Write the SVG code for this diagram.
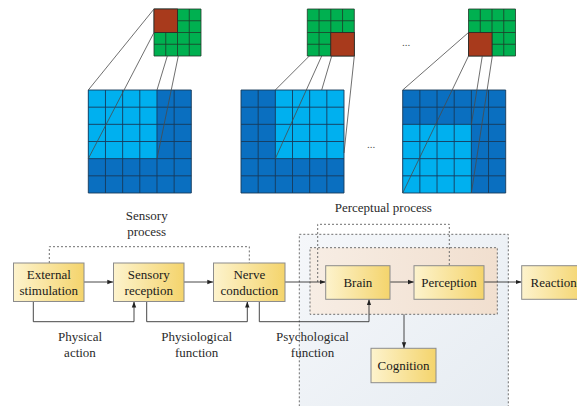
<svg xmlns="http://www.w3.org/2000/svg" xmlns:xlink="http://www.w3.org/1999/xlink" width="577" height="406" viewBox="0 0 577 406">
<style>
.t{font-family:"Liberation Serif","Times New Roman",serif;font-size:13px;fill:#1a1a1a;text-anchor:middle}
.lb{font-family:"Liberation Serif","Times New Roman",serif;font-size:13px;fill:#2a2a2a;text-anchor:middle}
.box{fill:url(#gy);stroke:#8c8c8c;stroke-width:1}
.ln{fill:none;stroke:#333;stroke-width:0.9}
.arr{fill:none;stroke:#333;stroke-width:0.9;marker-end:url(#ah)}
.dash{fill:none;stroke:#6f6f6f;stroke-width:1;stroke-dasharray:2 2}
.dk{fill:#0a6fc0}
.lt{fill:#00b0ef}
.gr{fill:#00b050}
.rd{fill:#a83a1c;stroke:#2a2a2a;stroke-width:0.8}
.bg{fill:none;stroke:#173a5a;stroke-width:0.9}
.gg{fill:none;stroke:#1f3a2a;stroke-width:0.8}
.cl{fill:none;stroke:#4a4a4a;stroke-width:0.8}
</style>
<defs>
<linearGradient id="gy" x1="0" y1="0" x2="1" y2="0">
<stop offset="0" stop-color="#fdf3cd"/>
<stop offset="1" stop-color="#f4d46c"/>
</linearGradient>
<linearGradient id="gb" x1="0" y1="0" x2="1" y2="1">
<stop offset="0" stop-color="#f5f7fa"/>
<stop offset="1" stop-color="#e6ecf2"/>
</linearGradient>
<linearGradient id="gp" x1="0" y1="0" x2="1" y2="0">
<stop offset="0" stop-color="#f7ede4"/>
<stop offset="1" stop-color="#f1dfcf"/>
</linearGradient>
<marker id="ah" viewBox="0 0 6 6" refX="6" refY="3" markerWidth="6" markerHeight="6" markerUnits="userSpaceOnUse" orient="auto">
<path d="M0 0.8L6 3L0 5.2Z" fill="#222"/>
</marker>
<path id="bgl" class="bg" d="M0 0H103V103H0Z M17.17 0V103 M34.33 0V103 M51.5 0V103 M68.67 0V103 M85.83 0V103 M0 17.17H103 M0 34.33H103 M0 51.5H103 M0 68.67H103 M0 85.83H103"/>
<path id="ggl" class="gg" d="M0 0H47V47H0Z M11.75 0V47 M23.5 0V47 M35.25 0V47 M0 11.75H47 M0 23.5H47 M0 35.25H47"/>
</defs>

<!-- top grids -->
<g id="grid1">
<rect class="dk" x="88.3" y="90" width="103" height="103"/>
<rect class="lt" x="88.3" y="90" width="68.67" height="68.67"/>
<use xlink:href="#bgl" href="#bgl" x="88.3" y="90"/>
<rect class="gr" x="154" y="9" width="47" height="47"/>
<use xlink:href="#ggl" href="#ggl" x="154" y="9"/>
<rect class="rd" x="154" y="9" width="23.5" height="23.5"/>
<path class="cl" d="M154 9L88.3 90 M154 32.5L88.3 158.7 M167.3 56L157 90 M178.3 56L157 158.7"/>
</g>
<g id="grid2">
<rect class="dk" x="241" y="90" width="103" height="103"/>
<rect class="lt" x="275.33" y="90" width="68.67" height="68.67"/>
<use xlink:href="#bgl" href="#bgl" x="241" y="90"/>
<rect class="gr" x="307.3" y="9" width="47" height="47"/>
<use xlink:href="#ggl" href="#ggl" x="307.3" y="9"/>
<rect class="rd" x="330.8" y="32.5" width="23.5" height="23.5"/>
<path class="cl" d="M309.3 56L275.3 90 M321.7 56L275.3 158.7 M331.7 56L321.7 90 M354.3 56L344 153"/>
</g>
<g id="grid3">
<rect class="dk" x="402.7" y="90" width="103" height="103"/>
<rect class="lt" x="402.7" y="124.33" width="68.67" height="68.67"/>
<use xlink:href="#bgl" href="#bgl" x="402.7" y="90"/>
<rect class="gr" x="468.5" y="9" width="47" height="47"/>
<use xlink:href="#ggl" href="#ggl" x="468.5" y="9"/>
<rect class="rd" x="468.5" y="32.5" width="23.5" height="23.5"/>
<path class="cl" d="M468.5 32.5L402.7 90 M468.5 56L402.7 193 M482.3 56L471.4 124.3 M492.3 56L471.4 193"/>
</g>
<text x="406" y="46" style="font-family:'Liberation Serif',serif;font-size:11px;fill:#555;text-anchor:middle">...</text>
<text x="371" y="148" style="font-family:'Liberation Serif',serif;font-size:11px;fill:#555;text-anchor:middle">...</text>

<!-- regions -->
<g id="perceptual-region">
<rect x="299.3" y="234.3" width="209" height="185" fill="url(#gb)" class="dash" style="fill:url(#gb)"/>
<rect x="310" y="247.7" width="187.3" height="66.6" class="dash" style="fill:url(#gp)"/>
</g>

<!-- connectors -->
<g id="connectors">
<path class="dash" d="M49.3 263V246.7H249.3V263"/>
<path class="dash" d="M317.7 282V224.3H449.3V265.7"/>
<path class="arr" d="M84 282H113.3"/>
<path class="arr" d="M184 282H213.3"/>
<path class="arr" d="M285 282H325.7"/>
<path class="arr" d="M390 282H414"/>
<path class="arr" d="M484 282H521.7"/>
<path class="arr" d="M33.3 301.5V321.7H134V301.5"/>
<path class="arr" d="M146.7 301.5V321.7H247.3V301.5"/>
<path class="arr" d="M259.3 301.5V321.7H369V299.3"/>
<path class="arr" d="M404 314.3V348.3"/>
</g>

<!-- labels -->
<text class="lb" x="146.7" y="220">Sensory</text>
<text class="lb" x="146.7" y="236">process</text>
<text class="lb" x="383.3" y="212">Perceptual process</text>
<text class="lb" x="80" y="341">Physical</text>
<text class="lb" x="80" y="357">action</text>
<text class="lb" x="196.7" y="341">Physiological</text>
<text class="lb" x="196.7" y="357">function</text>
<text class="lb" x="312.5" y="341">Psychological</text>
<text class="lb" x="312.5" y="357">function</text>

<!-- nodes -->
<g id="external">
<rect class="box" x="13.5" y="263" width="70.5" height="38.5"/>
<text class="t" x="48.8" y="279">External</text>
<text class="t" x="48.8" y="295">stimulation</text>
</g>
<g id="sensory">
<rect class="box" x="113.5" y="263" width="70.5" height="38.5"/>
<text class="t" x="148.8" y="279">Sensory</text>
<text class="t" x="148.8" y="295">reception</text>
</g>
<g id="nerve">
<rect class="box" x="213.5" y="263" width="71.5" height="38.5"/>
<text class="t" x="249.3" y="279">Nerve</text>
<text class="t" x="249.3" y="295">conduction</text>
</g>
<g id="brain">
<rect class="box" x="325.7" y="265.7" width="64.3" height="33.6"/>
<text class="t" x="357.9" y="287">Brain</text>
</g>
<g id="perception">
<rect class="box" x="414" y="265.7" width="70" height="33.6"/>
<text class="t" x="449" y="287">Perception</text>
</g>
<g id="reaction">
<rect class="box" x="521.7" y="265.7" width="64" height="33.6"/>
<text class="t" x="553.7" y="287">Reaction</text>
</g>
<g id="cognition">
<rect class="box" x="371" y="348.3" width="65" height="34.4"/>
<text class="t" x="403.5" y="370">Cognition</text>
</g>
</svg>
